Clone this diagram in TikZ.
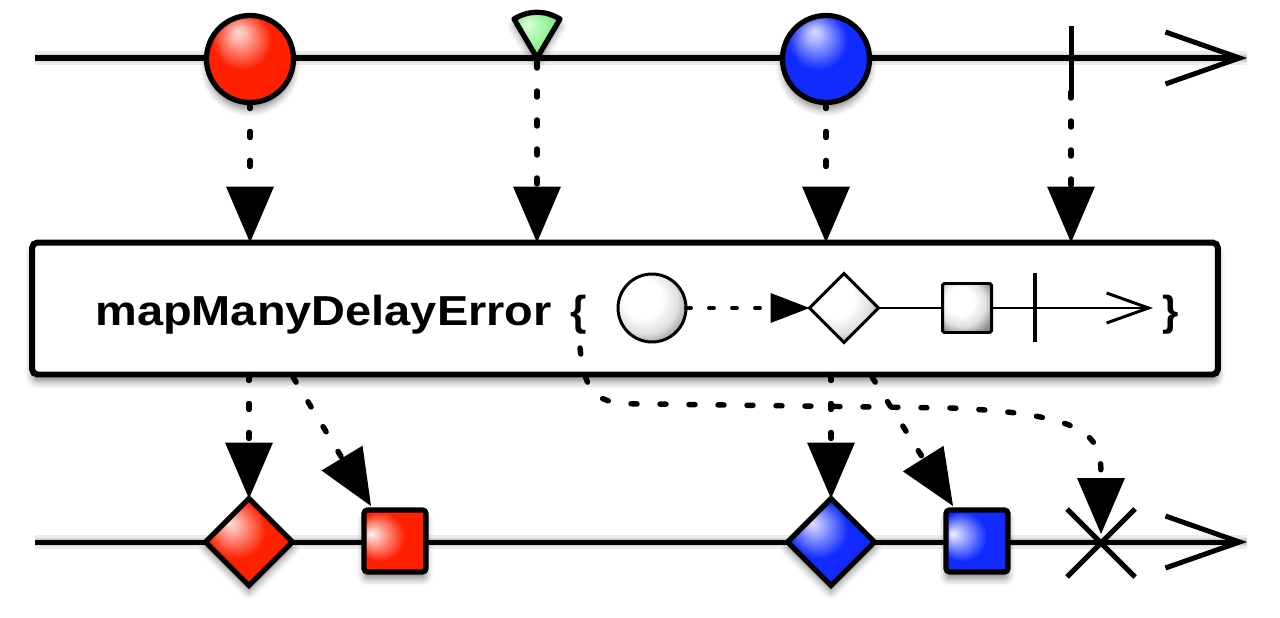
\documentclass[tikz,border=0pt]{standalone}
\usepackage{fontspec}
\setmainfont{Liberation Sans}
\usetikzlibrary{arrows.meta,shapes.geometric,shadows.blur,calc}
\definecolor{redc}{RGB}{255,32,0}
\definecolor{bluec}{RGB}{16,42,255}
\definecolor{greenc}{RGB}{90,230,90}
\pgfdeclareradialshading{redball}{\pgfpoint{-7bp}{16bp}}{color(0bp)=(white!82!redc); color(4bp)=(white!68!redc); color(17bp)=(redc); color(31bp)=(redc); color(42bp)=(redc!62!black); color(50bp)=(redc!55!black)}
\pgfdeclareradialshading{blueball}{\pgfpoint{-7bp}{16bp}}{color(0bp)=(white!82!bluec); color(4bp)=(white!68!bluec); color(17bp)=(bluec); color(31bp)=(bluec); color(42bp)=(bluec!62!black); color(50bp)=(bluec!55!black)}
\pgfdeclareradialshading{redsq}{\pgfpoint{-20bp}{6bp}}{color(0bp)=(white!95!redc); color(3bp)=(white!80!redc); color(20bp)=(redc); color(38bp)=(redc); color(50bp)=(redc!60!black)}
\pgfdeclareradialshading{bluesq}{\pgfpoint{-20bp}{6bp}}{color(0bp)=(white!95!bluec); color(3bp)=(white!80!bluec); color(20bp)=(bluec); color(38bp)=(bluec); color(50bp)=(bluec!60!black)}
\pgfdeclareradialshading{reddia}{\pgfpoint{-11bp}{11bp}}{color(0bp)=(white!85!redc); color(3bp)=(white!72!redc); color(17bp)=(redc); color(30bp)=(redc); color(41bp)=(redc!62!black); color(50bp)=(redc!55!black)}
\pgfdeclareradialshading{bluedia}{\pgfpoint{-11bp}{11bp}}{color(0bp)=(white!85!bluec); color(3bp)=(white!72!bluec); color(17bp)=(bluec); color(30bp)=(bluec); color(41bp)=(bluec!62!black); color(50bp)=(bluec!55!black)}
\pgfdeclareradialshading{whitesh}{\pgfpoint{-10bp}{10bp}}{color(0bp)=(white); color(14bp)=(white); color(24bp)=(black!12); color(33bp)=(black!45); color(50bp)=(black!55)}
\pgfdeclareradialshading{greensh}{\pgfpoint{-10bp}{10bp}}{color(0bp)=(white); color(4bp)=(green!22); color(22bp)=(greenc!70); color(40bp)=(greenc); color(50bp)=(greenc)}
\tikzset{
  axisline/.style={line width=2.85pt, black, line cap=butt},
  axisarrow/.style={axisline, -{Straight Barb[length=1.48cm,width=1.04cm,line width=2.85pt]}},
  axshadow/.style={black, line width=#1, opacity=0.08},
  shd/.style={blur shadow={shadow xshift=0pt, shadow yshift=-4pt, shadow blur radius=4pt, shadow opacity=45}},
  marble/.style={draw=black, line width=3pt, inner sep=0pt, outer sep=0pt, shd},
  ball/.style={marble, circle, minimum size=1.74cm},
  dia/.style={marble, diamond, aspect=1, minimum size=1.74cm},
  sq/.style={marble, rectangle, rounded corners=2pt, minimum size=1.24cm},
  flow/.style={line width=3.1pt, line cap=round, dash pattern=on 0.12cm off 0.46cm, -{Triangle[length=1.12cm,width=0.96cm,fill=black,line width=0pt]}},
  opbox/.style={draw=black, line width=3.4pt, rectangle, rounded corners=3pt, fill=white, minimum width=23.72cm, minimum height=2.64cm, inner sep=0pt, outer sep=0pt, shd},
  lbl/.style={anchor=base west, inner sep=0pt, font=\bfseries\fontsize{23.85pt}{28pt}\selectfont},
  inshape/.style={draw=black, line width=1.7pt, inner sep=0pt, outer sep=0pt, shading=whitesh},
  inline/.style={line width=1.7pt, black},
  inflow/.style={line width=2.2pt, line cap=round, dash pattern=on 0.1cm off 0.36cm, -{Triangle[length=0.78cm,width=0.6cm,fill=black,line width=0pt]}},
}
\begin{document}
\begin{tikzpicture}[x=0.02cm,y=-0.02cm]
\path[use as bounding box] (0,0) rectangle (1280,618);

% axis coordinates
\coordinate (ta0) at (35,58);
\coordinate (ta1) at (1247,58);
\coordinate (ba0) at (35,542);
\coordinate (ba1) at (1247,542);

% soft shadows of axes
\begin{scope}[yshift=-0.14cm]
  \foreach \w in {8pt,5pt,3pt}{
    \draw[axshadow=\w] (ta0) -- (ta1);
    \draw[axshadow=\w] (ba0) -- (ba1);
  }
\end{scope}

% axes
\draw[axisarrow] (ta0) -- (ta1);
\draw[axisarrow] (ba0) -- (ba1);

% top events
\node[ball, shading=redball] (rb) at (250,59) {};
\path[shd, draw=black, line width=3pt, line join=round, shading=greensh]
  (537,58) -- (514,19) .. controls (529,10) and (545,10) .. (560,19) -- cycle;
\coordinate (g) at (537,62);
\node[ball, shading=blueball] (bb) at (826,59) {};
\coordinate (tkt) at (1071,26);
\coordinate (tk) at (1071,92);
\draw[axisline] (tkt) -- (tk);

% operator box
\node[opbox] (box) at (625,308.5) {};
\node[lbl] (name) at (95,325) {\scalebox{1.12}[1]{mapManyDelayError}};
\node[lbl] (lbr) at (570,325) {\{};
\node[lbl] (rbr) at (1162,325) {\}};

% inner marble
\node[inshape, circle, minimum size=1.36cm] (ic) at (652,308) {};
\node[inshape, diamond, aspect=1, minimum size=1.38cm] (id) at (844,308) {};
\node[inshape, rectangle, rounded corners=1pt, minimum size=0.98cm] (is) at (967,308) {};
\coordinate (itk1) at (1035,273);
\coordinate (itk2) at (1035,342);
\coordinate (iend) at (1153,308);
\draw[inflow] (ic.east) -- (id.west);
\draw[inline] (id.east) -- (is.west);
\draw[inline, -{Straight Barb[length=0.84cm,width=0.6cm,line width=1.7pt]}] (is.east) -- (iend);
\draw[line width=2.6pt] (itk1) -- (itk2);

% top connectors
\draw[flow] (rb.south) -- (rb.south |- box.north);
\draw[flow] (g) -- (g |- box.north);
\draw[flow] (bb.south) -- (bb.south |- box.north);
\draw[flow] (tk) -- (tk |- box.north);

% bottom events
\node[dia, shading=reddia] (rd) at (249,542) {};
\node[sq, shading=redsq] (rs) at (395,541) {};
\node[dia, shading=bluedia] (bd) at (831,542) {};
\node[sq, shading=bluesq] (bs) at (977,541) {};
\coordinate (xc) at (1101,543);
\draw[line width=2.85pt] ($(xc)+(-34,-34)$) -- ($(xc)+(34,34)$);
\draw[line width=2.85pt] ($(xc)+(-34,34)$) -- ($(xc)+(34,-34)$);

% bottom connectors
\coordinate (rdg) at (293,377);
\coordinate (rst) at (371,506);
\coordinate (bdg) at (872,377);
\coordinate (bst) at (953,506);
\coordinate (cb) at (580,348);
\coordinate (xt) at (1101,534);
\draw[flow] (rd.north |- box.south) -- (rd.north);
\draw[flow] (rdg) -- (rst);
\draw[flow] (bd.north |- box.south) -- (bd.north);
\draw[flow] (bdg) -- (bst);
\draw[flow] (cb) .. controls (586,402) and (600,404) .. (650,404) -- (950,408) .. controls (1098,414) and (1101,440) .. (xt);
\end{tikzpicture}
\end{document}
